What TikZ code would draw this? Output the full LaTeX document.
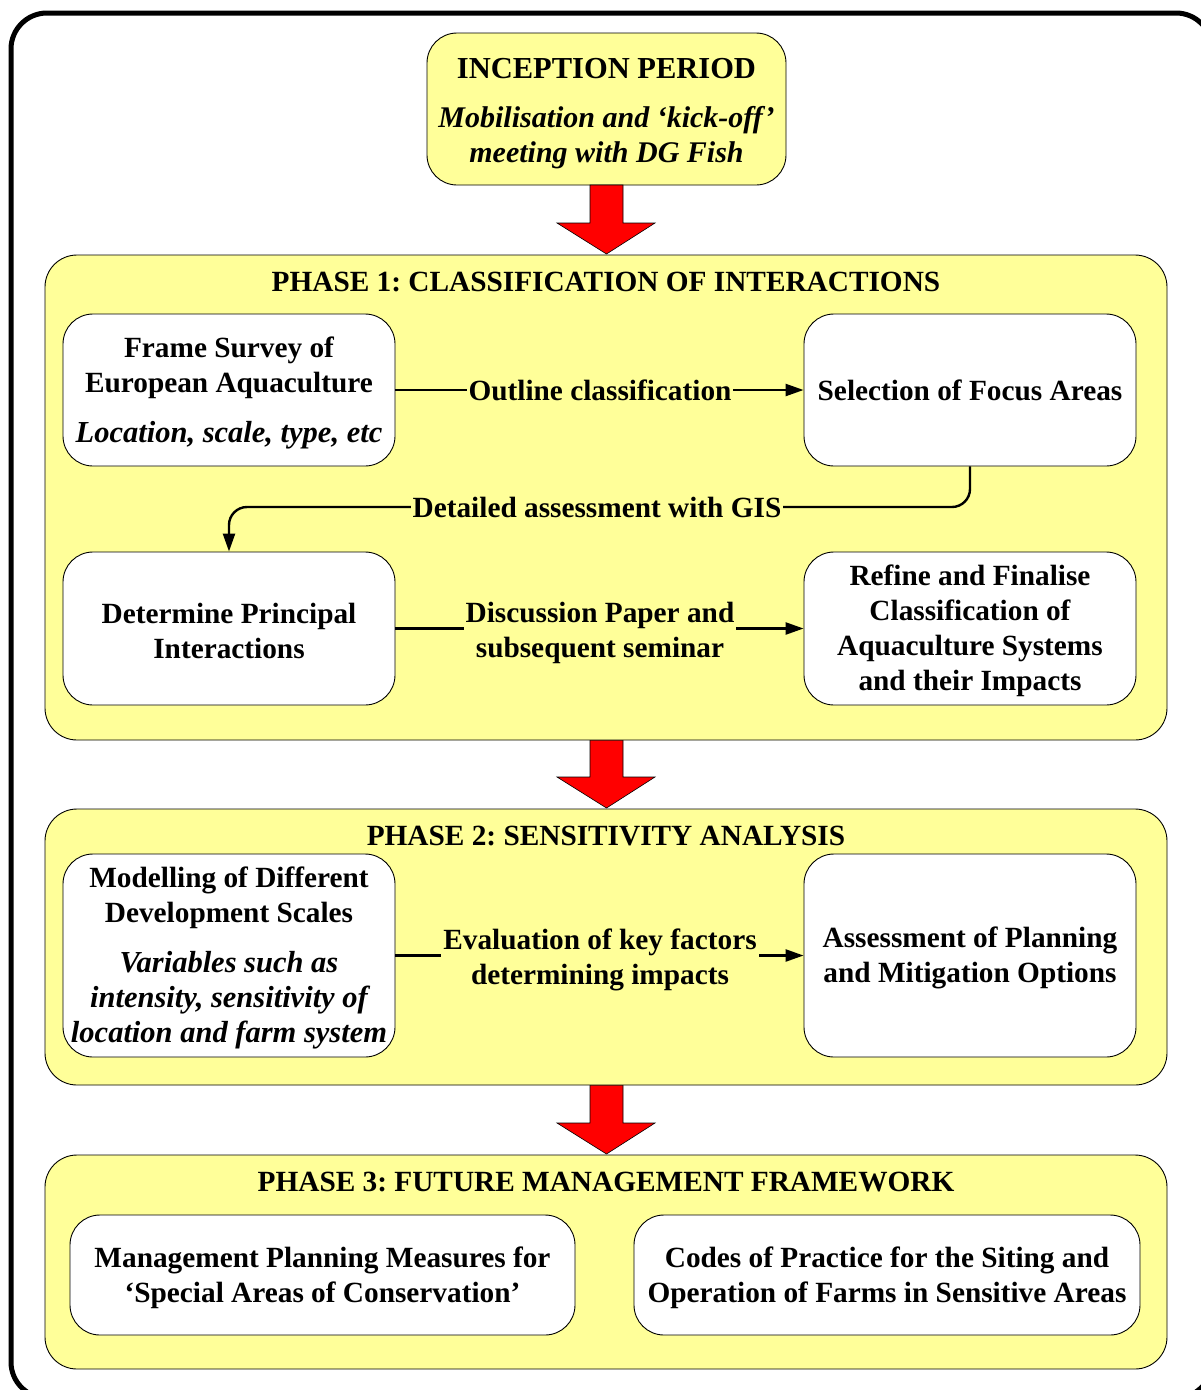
\documentclass[tikz,border=0pt]{standalone}
\usepackage{fontspec}
\setmainfont{Liberation Serif}
\usetikzlibrary{arrows.meta}
\definecolor{phaseyellow}{RGB}{255,255,153}
\definecolor{arrowred}{RGB}{255,0,0}
\newcommand{\itl}{\fontsize{30.5}{35}\selectfont\itshape}
\newcommand{\itlsm}{\fontsize{30}{35}\selectfont\itshape}
\newcommand{\toppad}[1][26pt]{\rule{0pt}{#1}}
\tikzset{
  phasebox/.style={draw=black, line width=0.9pt, fill=phaseyellow, rounded corners=32pt},
  whitebox/.style={draw=black, line width=0.9pt, fill=white, rounded corners=30pt, align=center,
     font=\frenchspacing\bfseries\fontsize{29.3}{35}\selectfont, inner sep=0pt},
  phasetitle/.style={font=\frenchspacing\bfseries\fontsize{29.3}{30}\selectfont, inner sep=0pt},
  conn/.style={line width=2.4pt, -{Triangle[length=18pt,width=12pt]}},
  lbl/.style={fill=phaseyellow, inner sep=2pt, align=center, font=\frenchspacing\bfseries\fontsize{29.3}{35}\selectfont},
  redarrow/.style={fill=arrowred, draw=black, line width=0.6pt}
}
\begin{document}
\begin{tikzpicture}[x=1pt,y=-1pt]
\useasboundingbox (0,0) rectangle (1201,1390);
\fill[white] (0,0) rectangle (1201,1390);
% outer frame
\draw[line width=5pt, rounded corners=36pt] (11,13) rectangle (1212,1398);

% inception
\node[whitebox, fill=phaseyellow, minimum width=359pt, minimum height=152pt] (inc) at (606.5,109)
  {\toppad[29pt]\fontsize{30.5}{35}\selectfont INCEPTION PERIOD\\[14pt]\itlsm Mobilisation and ‘kick-off’\\\itlsm meeting with DG Fish};

% red arrows
\draw[redarrow] (590,185) -- (623,185) -- (623,223) -- (655,223) -- (606.5,254) -- (557,223) -- (590,223) -- cycle;
\draw[redarrow] (590,740) -- (623,740) -- (623,777) -- (655,777) -- (606.5,808) -- (557,777) -- (590,777) -- cycle;
\draw[redarrow] (590,1085) -- (623,1085) -- (623,1123) -- (655,1123) -- (606.5,1154) -- (557,1123) -- (590,1123) -- cycle;

% phase 1
\node[phasebox, minimum width=1122pt, minimum height=485pt] (p1) at (606,497.5) {};
\node[phasetitle] (p1t) at (606,282) {PHASE 1: CLASSIFICATION OF INTERACTIONS};
\node[whitebox, minimum width=332pt, minimum height=152pt] (fs) at (229,390)
  {\toppad Frame Survey of\\European Aquaculture\\[15pt]\itl Location, scale, type, etc};
\node[whitebox, minimum width=332pt, minimum height=152pt] (sel) at (970,390)
  {Selection of Focus Areas};
\node[whitebox, minimum width=332pt, minimum height=153pt] (det) at (229,628.5)
  {\toppad Determine Principal\\Interactions};
\node[whitebox, minimum width=332pt, minimum height=153pt] (ref) at (970,628.5)
  {\toppad Refine and Finalise\\Classification of\\Aquaculture Systems\\and their Impacts};
\coordinate (gisrow) at (600,507);
\draw[conn] (fs.east) -- (sel.west);
\node[lbl] (oc) at (600,390) {Outline classification};
\draw[conn, rounded corners=18pt] (sel.south) |- (gisrow) -| (det.north);
\node[lbl] (gis) at (597,507) {Detailed assessment with GIS};
\draw[conn] (det.east) -- (ref.west);
\node[lbl] (dp) at (600,632.5) {Discussion Paper and\\subsequent seminar};

% phase 2
\node[phasebox, minimum width=1122pt, minimum height=276pt] (p2) at (606,947) {};
\node[phasetitle] (p2t) at (606,836) {PHASE 2: SENSITIVITY ANALYSIS};
\node[whitebox, minimum width=332pt, minimum height=203pt] (mod) at (229,955.5)
  {\toppad Modelling of Different\\Development Scales\\[15pt]\itl Variables such as\\\itl intensity, sensitivity of\\\itl location and farm system};
\node[whitebox, minimum width=332pt, minimum height=203pt] (ass) at (970,955.5)
  {\toppad Assessment of Planning\\and Mitigation Options};
\draw[conn] (mod.east) -- (ass.west);
\node[lbl] (ev) at (600,959.5) {Evaluation of key factors\\determining impacts};

% phase 3
\node[phasebox, minimum width=1122pt, minimum height=214pt] (p3) at (606,1262) {};
\node[phasetitle] (p3t) at (606,1182) {PHASE 3: FUTURE MANAGEMENT FRAMEWORK};
\node[whitebox, minimum width=505pt, minimum height=120pt] (mgt) at (322.5,1275)
  {\toppad Management Planning Measures for\\‘Special Areas of Conservation’};
\node[whitebox, minimum width=506pt, minimum height=120pt] (cop) at (887,1275)
  {\toppad Codes of Practice for the Siting and\\Operation of Farms in Sensitive Areas};
\end{tikzpicture}
\end{document}
